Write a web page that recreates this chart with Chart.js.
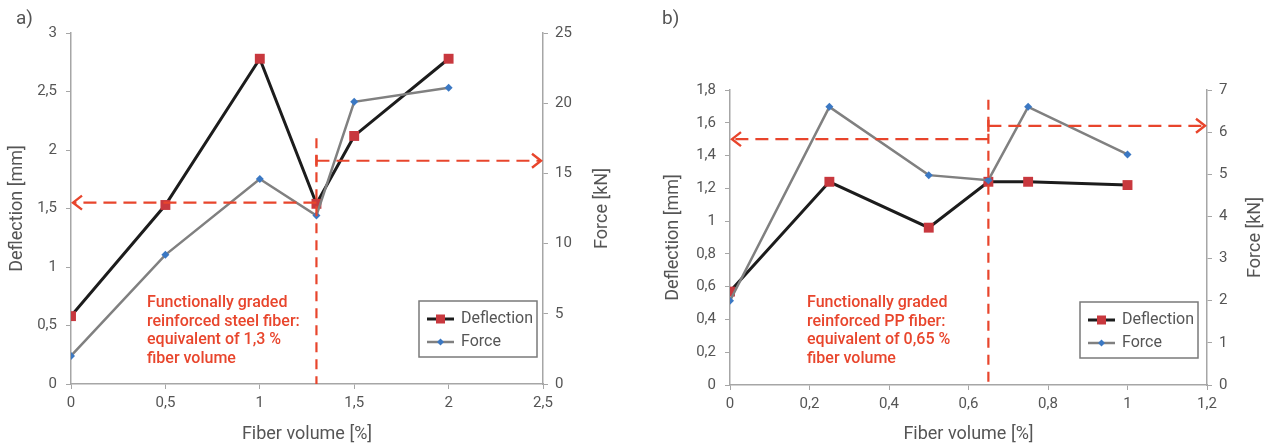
<!DOCTYPE html>
<html>
<head>
<meta charset="utf-8">
<script src="https://cdn.jsdelivr.net/npm/chart.js@4.4.0/dist/chart.umd.min.js"></script>
<style>
  body { margin: 0; background: #fff; width: 1269px; height: 448px; overflow: hidden; position: relative; font-family: Roboto, "Liberation Sans", sans-serif; }
  .wrap { position: absolute; top: 0; height: 448px; }
  #wa { left: 0; width: 640px; }
  #wb { left: 640px; width: 629px; }
  .tag { position: absolute; top: 6px; font-size: 19px; color: #555; }
  .note { position: absolute; top: 293px; color: #e8452c; font-size: 16px; font-weight: 500; line-height: 18.7px; }
</style>
</head>
<body>
<div class="wrap" id="wa"><canvas id="chartA" width="640" height="448"></canvas></div>
<div class="wrap" id="wb"><canvas id="chartB" width="629" height="448"></canvas></div>
<div class="tag" style="left:16px">a)</div>
<div class="tag" style="left:662px">b)</div>
<div class="note" style="left:147px">Functionally graded<br>reinforced steel fiber:<br>equivalent of 1,3 %<br>fiber volume</div>
<div class="note" style="left:807px">Functionally graded<br>reinforced PP fiber:<br>equivalent of 0,65 %<br>fiber volume</div>
<script>
// a) steel fiber
const xA = [0, 0.5, 1, 1.3, 1.5, 2];
const deflA = [0.58, 1.53, 2.78, 1.54, 2.12, 2.78];
const forceA = [2.0, 9.2, 14.6, 12.0, 20.1, 21.1];
// b) PP fiber
const xB = [0, 0.25, 0.5, 0.65, 0.75, 1];
const deflB = [0.57, 1.24, 0.96, 1.24, 1.24, 1.22];
const forceB = [2.0, 6.6, 4.98, 4.86, 6.6, 5.47];
// guides: [equivalent fiber volume, deflection read-off, force read-off, top of vertical]
const guideA = [1.3, 1.55, 15.9, 2.1];
const guideB = [0.65, 1.5, 6.15, 1.74];

const RED = "#e8452c";
const AXIS = "#a6a6a6";
const TXT = "#555";

function fmt(v) {
    return String(Math.round(v * 100) / 100).replace(".", ",");
}

function pairs(xs, ys) {
    return xs.map((x, i) => ({ x: x, y: ys[i] }));
}

const guidePlugin = {
    id: "guides",
    afterDatasetsDraw(chart, args, opts) {
        const ctx = chart.ctx;
        const sx = chart.scales.x, sy = chart.scales.y, sy1 = chart.scales.y1;
        const g = opts.guide;
        const gx = sx.getPixelForValue(g[0]);
        const yl = sy.getPixelForValue(g[1]);
        const yr = sy1.getPixelForValue(g[2]);
        const ytop = sy.getPixelForValue(g[3]);
        const ca = chart.chartArea;
        ctx.save();
        ctx.strokeStyle = RED;
        ctx.lineWidth = 2.2;
        // vertical
        ctx.setLineDash([10, 7]);
        ctx.beginPath(); ctx.moveTo(gx, ytop); ctx.lineTo(gx, ca.bottom); ctx.stroke();
        // horizontals
        ctx.setLineDash([13, 7]);
        ctx.beginPath(); ctx.moveTo(gx, yl); ctx.lineTo(ca.left + 3, yl); ctx.stroke();
        ctx.beginPath(); ctx.moveTo(gx, yr); ctx.lineTo(ca.right - 3, yr); ctx.stroke();
        ctx.setLineDash([]);
        // heads
        ctx.lineWidth = 2.4;
        ctx.beginPath();
        ctx.moveTo(ca.left + 11, yl - 7); ctx.lineTo(ca.left + 2, yl); ctx.lineTo(ca.left + 11, yl + 7);
        ctx.moveTo(ca.right - 11, yr - 7); ctx.lineTo(ca.right - 2, yr); ctx.lineTo(ca.right - 11, yr + 7);
        ctx.moveTo(gx, yr - 6); ctx.lineTo(gx, yr + 6);
        ctx.stroke();

        // right axis title (reads bottom to top)
        ctx.fillStyle = TXT;
        ctx.font = "18px Roboto, 'Liberation Sans', sans-serif";
        ctx.textAlign = "center";
        ctx.textBaseline = "middle";
        ctx.translate(ca.right + opts.titleGap, (ca.top + ca.bottom) / 2);
        ctx.rotate(-Math.PI / 2);
        ctx.fillText("Force [kN]", 0, 0);
        ctx.restore();

        // legend box
        ctx.save();
        const bw = 118, bh = 56;
        const bx = ca.right - opts.legendGap - bw, by = ca.bottom - 27 - bh;
        ctx.fillStyle = "#fff";
        ctx.fillRect(bx, by, bw, bh);
        ctx.strokeStyle = "#7a7a7a";
        ctx.lineWidth = 1.5;
        ctx.strokeRect(bx, by, bw, bh);
        ctx.font = "16px Roboto, 'Liberation Sans', sans-serif";
        ctx.textBaseline = "middle";
        chart.data.datasets.forEach((ds, i) => {
            const ry = by + 18 + i * 23;
            ctx.strokeStyle = ds.borderColor;
            ctx.lineWidth = ds.borderWidth;
            ctx.beginPath(); ctx.moveTo(bx + 8, ry); ctx.lineTo(bx + 35, ry); ctx.stroke();
            ctx.fillStyle = ds.pointBackgroundColor;
            if (ds.pointStyle === "rect") {
                ctx.fillRect(bx + 17, ry - 4.5, 9, 9);
            } else {
                ctx.beginPath();
                ctx.moveTo(bx + 21.5, ry - 3.5); ctx.lineTo(bx + 25, ry);
                ctx.lineTo(bx + 21.5, ry + 3.5); ctx.lineTo(bx + 18, ry);
                ctx.closePath(); ctx.fill();
            }
            ctx.fillStyle = TXT;
            ctx.fillText(ds.label, bx + 42, ry);
        });
        ctx.restore();
    }
};

function makeChart(id, xs, defl, force, lim, guide, box) {
    const font = { family: "Roboto, 'Liberation Sans', sans-serif", size: 15 };
    const grid = { drawOnChartArea: false, drawTicks: true, tickLength: 5, color: AXIS, lineWidth: 1 };
    const border = { display: true, color: AXIS, width: 1.5 };
    return new Chart(document.getElementById(id).getContext("2d"), {
        type: "line",
        data: {
            datasets: [
                {
                    label: "Deflection",
                    data: pairs(xs, defl),
                    yAxisID: "y",
                    borderColor: "#1c1c1c",
                    borderWidth: 3,
                    pointStyle: "rect",
                    pointRadius: 7,
                    pointBackgroundColor: "#c8383e",
                    pointBorderColor: "#c8383e",
                    pointBorderWidth: 0,
                    tension: 0,
                    order: 1
                },
                {
                    label: "Force",
                    data: pairs(xs, force),
                    yAxisID: "y1",
                    borderColor: "#808080",
                    borderWidth: 2.5,
                    pointStyle: "rectRot",
                    pointRadius: 4,
                    pointBackgroundColor: "#3b78c3",
                    pointBorderColor: "#3b78c3",
                    pointBorderWidth: 0,
                    tension: 0,
                    order: 0
                }
            ]
        },
        options: {
            responsive: false,
            animation: false,
            devicePixelRatio: 1,
            layout: { padding: { top: box.top, left: 0, right: 0, bottom: 0 } },
            plugins: {
                legend: { display: false },
                tooltip: { enabled: false },
                guides: { guide: guide, titleGap: box.titleGap, legendGap: box.legendGap }
            },
            scales: {
                x: {
                    type: "linear",
                    min: 0, max: lim.x, grid: grid, border: border,
                    ticks: { stepSize: lim.xs, color: TXT, font: font, padding: 5, callback: fmt },
                    title: { display: true, text: "Fiber volume [%]", color: TXT, font: { family: font.family, size: 18 }, padding: { top: 0, bottom: 3 } },
                    afterFit(s) { s.height = box.bottom; }
                },
                y: {
                    type: "linear", position: "left",
                    min: 0, max: lim.y, grid: grid, border: border,
                    ticks: { stepSize: lim.ys, color: TXT, font: font, padding: 9, callback: fmt },
                    title: { display: true, text: "Deflection [mm]", color: TXT, font: { family: font.family, size: 18 }, padding: { top: box.titlePad, bottom: 0 } },
                    afterFit(s) { s.width = box.left; }
                },
                y1: {
                    type: "linear", position: "right",
                    min: 0, max: lim.y1, grid: grid, border: border,
                    ticks: { stepSize: lim.y1s, color: TXT, font: font, padding: 7, callback: fmt },
                    afterFit(s) { s.width = box.right; }
                }
            }
        },
        plugins: [guidePlugin]
    });
}

makeChart("chartA", xA, deflA, forceA,
    { x: 2.5, xs: 0.5, y: 3, ys: 0.5, y1: 25, y1s: 5 }, guideA,
    { top: 33, left: 71, right: 97, bottom: 64, titlePad: 7, titleGap: 59, legendGap: 6 });
makeChart("chartB", xB, deflB, forceB,
    { x: 1.2, xs: 0.2, y: 1.8, ys: 0.2, y1: 7, y1s: 1 }, guideB,
    { top: 90, left: 90, right: 62, bottom: 63, titlePad: 23, titleGap: 48, legendGap: 9 });
</script>
</body>
</html>
